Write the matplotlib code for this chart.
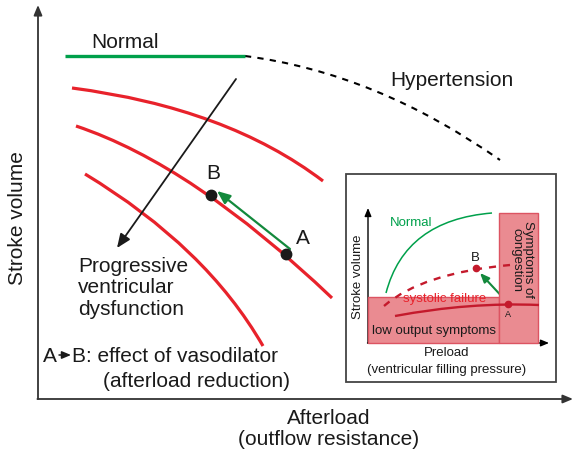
import matplotlib.pyplot as plt
from matplotlib.path import Path
from matplotlib.patches import PathPatch, Rectangle

plt.rcParams['font.family'] = ['Liberation Sans', 'DejaVu Sans']

# ---------------- curve control points (pixel space, y downwards) ----------------
# main diagram: afterload vs stroke volume
normal_line = [(65, 57), (245, 57)]
hypertension = [(245, 57), (376, 74), (500, 161)]
dysfunction_1 = [(72, 89), (227, 109), (323, 182)]
dysfunction_2 = [(76, 127), (193, 166), (332, 299)]
dysfunction_3 = [(85, 175), (206, 248), (263, 347)]
point_a = (286, 255)
point_b = (211, 196)
progress_arrow = [(236, 80), (117, 249)]
vasodilator_arrow = [(290, 250), (217, 192)]

# inset: preload vs stroke volume
inset_normal = [(386, 294), (405, 221), (492, 214)]
inset_failure = [(395, 317), (470, 303), (539, 306)]
inset_treated = [(384, 307), (422, 274), (510, 266)]
inset_a = (508, 305)
inset_b = (476, 269)
inset_arrow = [(507, 303), (480, 274)]
low_output_box = (368, 298, 131, 46)
congestion_box = (499, 214, 39, 130)

RED = '#e8222b'
DARK_RED = '#c41a2c'
GREEN = '#00a04b'
DARK_GREEN = '#13893c'
PINK = '#ea8b91'
PINK_EDGE = '#dc5462'
AXIS = '#333333'


def bezier(ax, pts, **kw):
    path = Path(pts, [Path.MOVETO, Path.CURVE3, Path.CURVE3])
    ax.add_patch(PathPatch(path, fill=False, capstyle='butt', **kw))


def arrow(ax, start, end, color, lw, head=1.0):
    ax.annotate('', xy=end, xytext=start,
                arrowprops=dict(arrowstyle=f'-|>,head_length={0.6 * head},head_width={0.25 * head}',
                                color=color, lw=lw, shrinkA=0, shrinkB=0))


fig = plt.figure(figsize=(5.74, 4.56), dpi=100)
ax = fig.add_axes([0, 0, 1, 1])
ax.set_xlim(0, 574)
ax.set_ylim(456, 0)
ax.axis('off')

# axes of the main diagram
arrow(ax, (38, 400), (38, 6), AXIS, 1.3)
arrow(ax, (37.4, 400), (573, 400), AXIS, 1.3)

# afterload curves
ax.plot(*zip(*normal_line), color=GREEN, lw=2.4, solid_capstyle='butt')
bezier(ax, hypertension, color='black', lw=1.5, linestyle=(0, (3, 3)))
for curve in (dysfunction_1, dysfunction_2, dysfunction_3):
    bezier(ax, curve, color=RED, lw=2.3)

arrow(ax, progress_arrow[0], progress_arrow[1], '#1a1a1a', 1.3, head=1.4)
arrow(ax, vasodilator_arrow[0], vasodilator_arrow[1], DARK_GREEN, 1.6, head=1.3)
ax.plot(*zip(point_a, point_b), 'o', color='#1a1a1a', ms=7.5, zorder=5)

txt = dict(fontsize=15, color='#1a1a1a')
ax.text(91, 43, 'Normal', va='center', ha='left', **txt)
ax.text(390, 80, 'Hypertension', va='center', ha='left', **txt)
ax.text(213, 174, 'B', va='center', ha='center', **txt)
ax.text(303, 239, 'A', va='center', ha='center', **txt)
ax.text(78, 288, 'Progressive\nventricular\ndysfunction', va='center', ha='left',
        linespacing=1.15, **txt)
ax.text(43, 357, 'A', va='center', ha='left', **txt)
arrow(ax, (59, 356), (71, 356), '#1a1a1a', 1.1, head=0.9)
ax.text(72, 357, 'B: effect of vasodilator', va='center', ha='left', **txt)
ax.text(103, 382, '(afterload reduction)', va='center', ha='left', **txt)
ax.text(329, 429, 'Afterload\n(outflow resistance)', va='center', ha='center',
        linespacing=1.1, **txt)
ax.text(18, 218, 'Stroke volume', va='center', ha='center', rotation=90, **txt)

# inset frame
ax.add_patch(Rectangle((346, 175), 210, 208, facecolor='white', edgecolor='#444444', lw=1.3, zorder=3))

for x, y, w, h in (low_output_box, congestion_box):
    ax.add_patch(Rectangle((x, y), w, h, facecolor=PINK, edgecolor=PINK_EDGE, lw=1.0, zorder=4))

arrow(ax, (368, 344), (368, 209), 'black', 1.0, head=0.8)
arrow(ax, (367.5, 344), (549, 344), 'black', 1.0, head=0.8)

bezier(ax, inset_normal, color=GREEN, lw=1.1, zorder=5)
bezier(ax, inset_failure, color=DARK_RED, lw=1.7, zorder=5)
bezier(ax, inset_treated, color=DARK_RED, lw=1.7, linestyle=(0, (3, 3)), zorder=5)
arrow(ax, inset_arrow[0], inset_arrow[1], DARK_GREEN, 1.5, head=0.9)
ax.plot(*zip(inset_a, inset_b), 'o', color=DARK_RED, ms=4.5, zorder=6)

small = dict(fontsize=9.5, color='#1a1a1a', zorder=7)
ax.text(390, 223, 'Normal', va='center', ha='left', fontsize=9.5, color=GREEN, zorder=7)
ax.text(403, 299, 'systolic failure', va='center', ha='left', fontsize=9.5, color=RED, zorder=7)
ax.text(372, 331, 'low output symptoms', va='center', ha='left', **small)
ax.text(522, 260, 'Symptoms of\ncongestion', va='center', ha='center', rotation=270,
        linespacing=0.95, **small)
ax.text(475, 258, 'B', va='center', ha='center', **small)
ax.text(508, 315, 'A', va='center', ha='center', fontsize=6.5, color='#1a1a1a', zorder=7)
ax.text(358, 277, 'Stroke volume', va='center', ha='center', rotation=90, **small)
ax.text(447, 353, 'Preload', va='center', ha='center', **small)
ax.text(447, 370, '(ventricular filling pressure)', va='center', ha='center', **small)

fig.savefig('out.png', dpi=100)
